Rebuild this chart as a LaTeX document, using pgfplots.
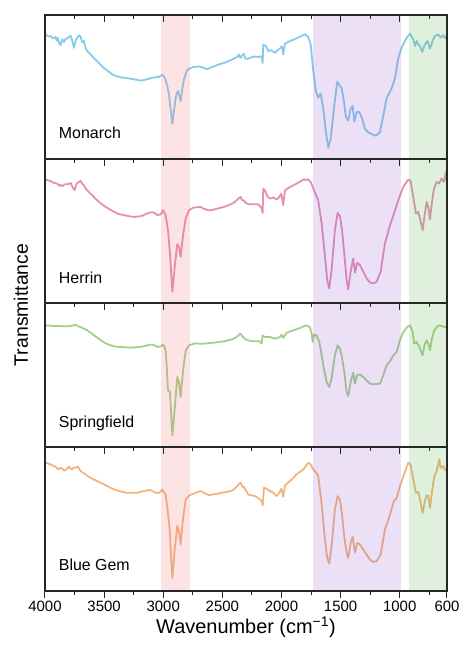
\documentclass[border=0pt]{standalone}
\usepackage{pgfplots}
\pgfplotsset{compat=1.18}
\usepackage{fontspec}
\setmainfont{Liberation Sans}
\definecolor{cblue}{HTML}{86CBEB}
\definecolor{cpink}{HTML}{E58FB2}
\definecolor{cgreen}{HTML}{A3CF8B}
\definecolor{corange}{HTML}{F0B47F}
\definecolor{shred}{HTML}{F07878}
\definecolor{shpurple}{HTML}{9966CC}
\definecolor{shgreen}{HTML}{60B850}
\pgfplotsset{
  panel/.style={
    width=402bp, height=144bp, scale only axis,
    xmin=600, xmax=4000, x dir=reverse, ymin=0,
    ytick=\empty,
    xtick={600,1000,1500,2000,2500,3000,3500,4000},
    minor xtick={750,1250,1750,2250,2750,3250,3750},
    xtick pos=upper, tick align=inside, xticklabels={},
    major tick length=6.5bp, minor tick length=4bp,
    axis line style={line width=1.1bp, black!85},
    every tick/.style={line width=1bp, black!85},
    axis on top, clip=true,
  },
  spec/.style={line width=1.8bp, line join=round},
}
\newcommand{\shades}[1]{%
  \fill[shred, fill opacity=0.2] (axis cs:3020,0) rectangle (axis cs:2775,#1);
  \fill[shpurple, fill opacity=0.2] (axis cs:1735,0) rectangle (axis cs:990,#1);
  \fill[shgreen, fill opacity=0.2] (axis cs:920,0) rectangle (axis cs:600,#1);
}
\newcommand{\plabel}[1]{\node[anchor=base west, font=\fontsize{16}{18}\selectfont] at (axis cs:3912,60) {#1};}
\begin{document}
\begin{tikzpicture}
\path[use as bounding box] (-45bp,15bp) rectangle (418bp,-641bp);
% Panel 1: Monarch
\begin{axis}[panel, at={(0bp,0bp)}, anchor=north west, ymax=426]
\addplot[spec, cblue] coordinates {(4000,367) (3994,369) (3970,362) (3952,364) (3930,356) (3910,361) (3900,350) (3890,358) (3880,342) (3868,337) (3860,350) (3853,354) (3840,346) (3825,356) (3811,357) (3795,362) (3783,364) (3770,352) (3755,329) (3740,350) (3727,359) (3712,366) (3698,361) (3685,345) (3670,349) (3662,336) (3656,329) (3648,322) (3642,319) (3628,314) (3614,309) (3590,300) (3557,289) (3530,279) (3501,269) (3470,261) (3445,254) (3420,248) (3388,244) (3350,241) (3304,239) (3250,236) (3191,232) (3160,234) (3135,236) (3100,240) (3078,241) (3036,243) (3008,249) (2990,243) (2980,234) (2965,215) (2951,189) (2935,140) (2923,104) (2910,140) (2895,179) (2885,195) (2875,201) (2865,190) (2853,171) (2840,205) (2825,234) (2810,252) (2796,264) (2775,268) (2754,271) (2720,273) (2698,274) (2675,272) (2655,269) (2627,266) (2600,270) (2571,274) (2530,280) (2486,284) (2440,291) (2402,297) (2375,302) (2359,309) (2352,300) (2345,299) (2330,308) (2317,311) (2309,299) (2295,296) (2281,297) (2260,300) (2238,303) (2196,302) (2168,304) (2159,284) (2154,339) (2131,334) (2111,319) (2095,322) (2083,321) (2055,314) (2035,321) (2007,329) (1996,334) (1985,309) (1970,341) (1928,349) (1872,357) (1830,364) (1801,369) (1773,361) (1753,339) (1731,259) (1708,199) (1689,181) (1669,194) (1646,149) (1624,79) (1604,34) (1584,59) (1556,149) (1528,229) (1511,219) (1491,209) (1471,169) (1455,124) (1435,114) (1415,149) (1398,157) (1384,111) (1364,139) (1342,139) (1322,124) (1294,89) (1266,79) (1237,74) (1209,69) (1190,72) (1167,79) (1139,129) (1111,179) (1068,209) (1040,239) (1012,299) (984,329) (941,359) (913,371) (885,354) (871,334) (857,349) (843,340) (829,334) (809,317) (787,339) (764,349) (744,326) (722,349) (702,364) (674,369) (654,359) (631,367) (617,357) (600,367)};
\shades{426}
\plabel{Monarch}
\end{axis}
% Panel 2: Herrin
\begin{axis}[panel, at={(0bp,-144bp)}, anchor=north west, ymax=433]
\addplot[spec, cpink] coordinates {(4000,373) (3994,371) (3970,368) (3952,367) (3930,362) (3910,360) (3896,359) (3880,352) (3870,356) (3853,351) (3840,356) (3825,357) (3800,358) (3783,361) (3770,350) (3749,339) (3740,352) (3727,361) (3712,364) (3698,367) (3685,358) (3670,354) (3656,344) (3642,339) (3620,330) (3600,324) (3570,313) (3543,304) (3515,296) (3487,289) (3450,281) (3416,274) (3380,268) (3332,264) (3290,261) (3247,259) (3210,260) (3177,262) (3150,267) (3120,271) (3100,273) (3078,272) (3050,264) (3022,267) (3000,279) (2990,272) (2980,264) (2960,219) (2943,149) (2933,90) (2923,34) (2913,70) (2903,109) (2881,177) (2867,169) (2853,139) (2840,180) (2830,209) (2810,254) (2782,279) (2760,284) (2740,287) (2710,288) (2684,289) (2661,284) (2640,282) (2627,279) (2600,279) (2571,281) (2530,285) (2486,289) (2450,294) (2416,299) (2390,305) (2373,311) (2360,315) (2345,319) (2335,310) (2323,309) (2317,307) (2295,299) (2270,297) (2252,297) (2196,297) (2176,289) (2168,284) (2159,271) (2154,344) (2140,339) (2120,321) (2097,314) (2069,317) (2041,311) (2018,319) (2001,329) (1985,294) (1970,339) (1928,349) (1872,359) (1815,371) (1773,371) (1753,364) (1725,339) (1689,309) (1660,239) (1632,139) (1613,69) (1596,44) (1576,99) (1548,219) (1525,271) (1505,261) (1486,214) (1469,149) (1449,69) (1435,41) (1415,94) (1393,134) (1378,91) (1359,121) (1336,114) (1308,94) (1280,74) (1252,62) (1223,59) (1195,64) (1161,94) (1125,179) (1082,234) (1049,269) (1012,309) (970,349) (928,371) (908,367) (885,319) (863,269) (843,274) (829,254) (806,219) (787,269) (772,304) (758,289) (744,251) (727,304) (710,344) (688,364) (668,359) (646,374) (626,364) (609,394) (600,365)};
\shades{433}
\plabel{Herrin}
\end{axis}
% Panel 3: Springfield
\begin{axis}[panel, at={(0bp,-288bp)}, anchor=north west, ymax=432]
\addplot[spec, cgreen] coordinates {(4000,364) (3994,365) (3960,364) (3924,363) (3880,363) (3839,362) (3810,362) (3783,363) (3760,365) (3741,367) (3720,362) (3698,360) (3670,355) (3642,350) (3614,343) (3586,335) (3550,326) (3515,317) (3480,310) (3445,305) (3400,301) (3360,300) (3320,299) (3276,298) (3230,299) (3191,300) (3160,303) (3135,305) (3110,307) (3092,307) (3070,304) (3050,300) (3022,302) (3000,307) (2990,300) (2980,290) (2970,240) (2960,170) (2943,165) (2933,100) (2923,35) (2913,75) (2903,115) (2881,210) (2867,195) (2853,150) (2840,200) (2830,235) (2810,290) (2782,305) (2750,309) (2726,311) (2690,310) (2655,310) (2610,312) (2571,313) (2530,315) (2486,317) (2450,320) (2416,323) (2390,328) (2373,332) (2360,336) (2351,340) (2345,340) (2335,334) (2323,330) (2317,327) (2300,322) (2281,320) (2250,318) (2224,317) (2182,317) (2168,310) (2159,335) (2140,330) (2097,330) (2055,325) (2013,330) (1999,337) (1985,327) (1956,343) (1900,350) (1844,357) (1793,365) (1759,360) (1745,340) (1736,315) (1725,337) (1703,335) (1680,315) (1660,275) (1641,235) (1618,195) (1596,180) (1576,205) (1548,275) (1525,305) (1505,295) (1486,265) (1469,225) (1449,165) (1435,153) (1415,195) (1393,223) (1378,190) (1359,217) (1336,217) (1308,210) (1280,200) (1252,190) (1223,188) (1195,189) (1167,190) (1139,215) (1111,245) (1082,257) (1054,275) (1026,285) (998,320) (970,345) (936,360) (913,365) (891,345) (877,310) (857,315) (834,300) (806,275) (787,310) (772,320) (758,310) (744,290) (727,325) (708,350) (674,365) (646,363) (617,360) (600,360)};
\shades{432}
\plabel{Springfield}
\end{axis}
% Panel 4: Blue Gem
\begin{axis}[panel, at={(0bp,-432bp)}, anchor=north west, ymax=431]
\addplot[spec, corange] coordinates {(4000,386) (3994,384) (3970,381) (3952,379) (3930,374) (3910,372) (3895,366) (3882,364) (3868,370) (3853,366) (3840,360) (3825,362) (3810,368) (3797,372) (3783,366) (3769,364) (3755,370) (3741,369) (3721,372) (3710,365) (3698,359) (3680,354) (3656,349) (3640,344) (3614,339) (3590,334) (3557,329) (3530,324) (3501,319) (3470,314) (3445,309) (3420,305) (3388,301) (3350,297) (3304,294) (3260,294) (3219,294) (3190,297) (3163,299) (3140,301) (3112,302) (3090,299) (3078,296) (3050,293) (3036,294) (3020,298) (3008,304) (2995,297) (2980,289) (2960,234) (2943,174) (2933,100) (2923,39) (2913,80) (2903,124) (2881,196) (2867,179) (2853,139) (2840,190) (2830,224) (2810,274) (2782,286) (2740,292) (2710,296) (2684,299) (2670,297) (2655,294) (2635,290) (2613,287) (2580,289) (2543,291) (2510,294) (2472,296) (2440,298) (2416,301) (2390,308) (2373,314) (2360,320) (2351,322) (2345,324) (2330,312) (2317,312) (2300,300) (2281,289) (2250,286) (2224,284) (2200,279) (2182,274) (2168,269) (2159,256) (2148,309) (2126,306) (2097,299) (2069,294) (2041,284) (2018,294) (2001,306) (1985,282) (1970,316) (1928,329) (1872,349) (1815,364) (1773,384) (1753,379) (1736,366) (1717,359) (1689,344) (1660,259) (1632,154) (1613,99) (1596,82) (1576,134) (1548,244) (1525,284) (1505,274) (1486,224) (1469,164) (1449,114) (1435,99) (1415,144) (1398,162) (1378,116) (1359,144) (1336,139) (1308,124) (1280,109) (1252,94) (1223,87) (1195,89) (1161,109) (1125,184) (1082,229) (1049,269) (1026,279) (998,314) (956,356) (928,384) (908,379) (885,334) (863,294) (843,296) (829,274) (806,234) (787,269) (772,286) (758,284) (744,249) (724,304) (710,339) (688,359) (665,394) (654,369) (631,374) (617,362) (600,364)};
\shades{431}
\plabel{Blue Gem}
\end{axis}
% bottom ticks and labels
\begin{axis}[panel, at={(0bp,-432bp)}, anchor=north west, ymax=431, hide y axis,
  xtick pos=lower, tick align=outside,
  xticklabels={600,1000,1500,2000,2500,3000,3500,4000},
  ticklabel style={font=\fontsize{15}{18}\selectfont},
  xlabel={Wavenumber (cm\textsuperscript{−1})},
  xlabel style={font=\fontsize{20}{22}\selectfont, yshift=2bp}]
\addplot[draw=none] coordinates {(2000,0)};
\end{axis}
\node[rotate=90, font=\fontsize{19.5}{22}\selectfont] at (-24bp,-290bp) {Transmittance};
\end{tikzpicture}
\end{document}
